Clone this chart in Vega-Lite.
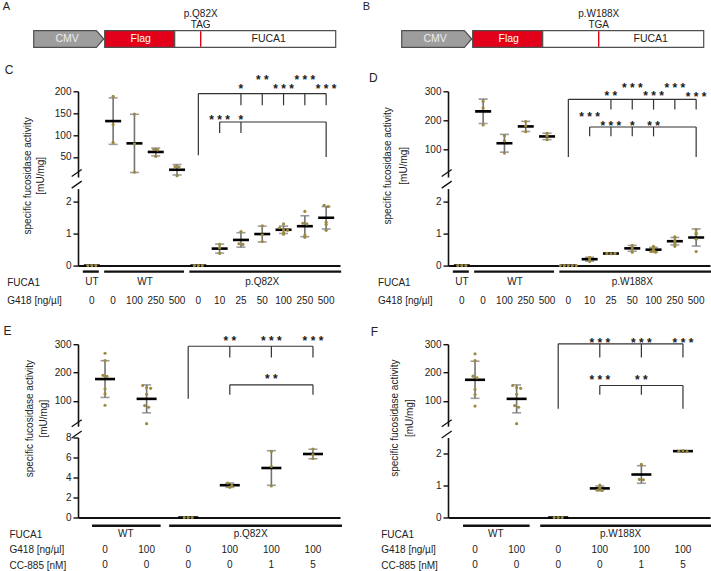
{
"$schema": "https://vega.github.io/schema/vega-lite/v6.json",
"autosize": {"type": "pad"},
"padding": {"left": 2, "top": 0, "right": 0, "bottom": 0},
"background": "white",
"config": {
  "view": {"stroke": null},
  "font": "Liberation Sans",
  "axis": {"domainColor": "#111", "domainWidth": 1.6, "tickColor": "#111", "tickWidth": 1.4, "tickSize": 5, "labelFontSize": 10, "labelColor": "#222", "labelPadding": 2, "grid": false, "titleFontSize": 10, "titleFontWeight": "normal", "titleColor": "#222", "labelFont": "Liberation Sans", "titleFont": "Liberation Sans"},
  "title": {"fontSize": 12, "fontWeight": "normal", "color": "#222", "anchor": "start", "font": "Liberation Sans", "frame": "group"},
  "text": {"font": "Liberation Sans", "baseline": "middle", "fontSize": 10, "color": "#222"}
},
"datasets": {
  "cmv": [{"u": 0, "top": 30.7, "bot": 47.3}, {"u": 62.7, "top": 30.7, "bot": 47.3}, {"u": 70, "top": 39, "bot": 39}],
  "segs": [{"seg": "Flag", "u0": 71, "u1": 141}, {"seg": "FUCA1", "u0": 141, "u1": 302}],
  "c": [
    {"fuca1": "UT", "g418": 0, "cond": "UT/0", "v": 0}, {"fuca1": "UT", "g418": 0, "cond": "UT/0", "v": 0}, {"fuca1": "UT", "g418": 0, "cond": "UT/0", "v": 0},
    {"fuca1": "WT", "g418": 0, "cond": "WT/0", "v": 188.6}, {"fuca1": "WT", "g418": 0, "cond": "WT/0", "v": 123.8}, {"fuca1": "WT", "g418": 0, "cond": "WT/0", "v": 83.3},
    {"fuca1": "WT", "g418": 100, "cond": "WT/100", "v": 148}, {"fuca1": "WT", "g418": 100, "cond": "WT/100", "v": 80}, {"fuca1": "WT", "g418": 100, "cond": "WT/100", "v": 15},
    {"fuca1": "WT", "g418": 250, "cond": "WT/250", "v": 67}, {"fuca1": "WT", "g418": 250, "cond": "WT/250", "v": 66}, {"fuca1": "WT", "g418": 250, "cond": "WT/250", "v": 51},
    {"fuca1": "WT", "g418": 500, "cond": "WT/500", "v": 28}, {"fuca1": "WT", "g418": 500, "cond": "WT/500", "v": 27}, {"fuca1": "WT", "g418": 500, "cond": "WT/500", "v": 7},
    {"fuca1": "p.Q82X", "g418": 0, "cond": "Q82X/0", "v": 0}, {"fuca1": "p.Q82X", "g418": 0, "cond": "Q82X/0", "v": 0}, {"fuca1": "p.Q82X", "g418": 0, "cond": "Q82X/0", "v": 0},
    {"fuca1": "p.Q82X", "g418": 10, "cond": "Q82X/10", "v": 0.66}, {"fuca1": "p.Q82X", "g418": 10, "cond": "Q82X/10", "v": 0.55}, {"fuca1": "p.Q82X", "g418": 10, "cond": "Q82X/10", "v": 0.38},
    {"fuca1": "p.Q82X", "g418": 25, "cond": "Q82X/25", "v": 1.06}, {"fuca1": "p.Q82X", "g418": 25, "cond": "Q82X/25", "v": 0.68}, {"fuca1": "p.Q82X", "g418": 25, "cond": "Q82X/25", "v": 0.66},
    {"fuca1": "p.Q82X", "g418": 50, "cond": "Q82X/50", "v": 1.24}, {"fuca1": "p.Q82X", "g418": 50, "cond": "Q82X/50", "v": 0.96}, {"fuca1": "p.Q82X", "g418": 50, "cond": "Q82X/50", "v": 0.75},
    {"fuca1": "p.Q82X", "g418": 100, "cond": "Q82X/100", "v": 1.30}, {"fuca1": "p.Q82X", "g418": 100, "cond": "Q82X/100", "v": 1.18}, {"fuca1": "p.Q82X", "g418": 100, "cond": "Q82X/100", "v": 1.12}, {"fuca1": "p.Q82X", "g418": 100, "cond": "Q82X/100", "v": 1.10}, {"fuca1": "p.Q82X", "g418": 100, "cond": "Q82X/100", "v": 1.02}, {"fuca1": "p.Q82X", "g418": 100, "cond": "Q82X/100", "v": 0.98},
    {"fuca1": "p.Q82X", "g418": 250, "cond": "Q82X/250", "v": 1.69}, {"fuca1": "p.Q82X", "g418": 250, "cond": "Q82X/250", "v": 1.32}, {"fuca1": "p.Q82X", "g418": 250, "cond": "Q82X/250", "v": 1.30}, {"fuca1": "p.Q82X", "g418": 250, "cond": "Q82X/250", "v": 0.95}, {"fuca1": "p.Q82X", "g418": 250, "cond": "Q82X/250", "v": 0.88},
    {"fuca1": "p.Q82X", "g418": 500, "cond": "Q82X/500", "v": 1.88}, {"fuca1": "p.Q82X", "g418": 500, "cond": "Q82X/500", "v": 1.84}, {"fuca1": "p.Q82X", "g418": 500, "cond": "Q82X/500", "v": 1.35}, {"fuca1": "p.Q82X", "g418": 500, "cond": "Q82X/500", "v": 1.28}, {"fuca1": "p.Q82X", "g418": 500, "cond": "Q82X/500", "v": 1.10}
  ],
  "d": [
    {"fuca1": "UT", "g418": 0, "cond": "UT/0", "v": 0}, {"fuca1": "UT", "g418": 0, "cond": "UT/0", "v": 0}, {"fuca1": "UT", "g418": 0, "cond": "UT/0", "v": 0},
    {"fuca1": "WT", "g418": 0, "cond": "WT/0", "v": 265.6}, {"fuca1": "WT", "g418": 0, "cond": "WT/0", "v": 242.5}, {"fuca1": "WT", "g418": 0, "cond": "WT/0", "v": 183.6},
    {"fuca1": "WT", "g418": 100, "cond": "WT/100", "v": 146}, {"fuca1": "WT", "g418": 100, "cond": "WT/100", "v": 128}, {"fuca1": "WT", "g418": 100, "cond": "WT/100", "v": 86},
    {"fuca1": "WT", "g418": 250, "cond": "WT/250", "v": 195}, {"fuca1": "WT", "g418": 250, "cond": "WT/250", "v": 180}, {"fuca1": "WT", "g418": 250, "cond": "WT/250", "v": 160},
    {"fuca1": "WT", "g418": 500, "cond": "WT/500", "v": 154}, {"fuca1": "WT", "g418": 500, "cond": "WT/500", "v": 145}, {"fuca1": "WT", "g418": 500, "cond": "WT/500", "v": 132},
    {"fuca1": "p.W188X", "g418": 0, "cond": "W188X/0", "v": 0}, {"fuca1": "p.W188X", "g418": 0, "cond": "W188X/0", "v": 0}, {"fuca1": "p.W188X", "g418": 0, "cond": "W188X/0", "v": 0}, {"fuca1": "p.W188X", "g418": 0, "cond": "W188X/0", "v": 0}, {"fuca1": "p.W188X", "g418": 0, "cond": "W188X/0", "v": 0},
    {"fuca1": "p.W188X", "g418": 10, "cond": "W188X/10", "v": 0.26}, {"fuca1": "p.W188X", "g418": 10, "cond": "W188X/10", "v": 0.24}, {"fuca1": "p.W188X", "g418": 10, "cond": "W188X/10", "v": 0.13}, {"fuca1": "p.W188X", "g418": 10, "cond": "W188X/10", "v": 0.17},
    {"fuca1": "p.W188X", "g418": 25, "cond": "W188X/25", "v": 0.38}, {"fuca1": "p.W188X", "g418": 25, "cond": "W188X/25", "v": 0.37}, {"fuca1": "p.W188X", "g418": 25, "cond": "W188X/25", "v": 0.38},
    {"fuca1": "p.W188X", "g418": 50, "cond": "W188X/50", "v": 0.63}, {"fuca1": "p.W188X", "g418": 50, "cond": "W188X/50", "v": 0.58}, {"fuca1": "p.W188X", "g418": 50, "cond": "W188X/50", "v": 0.52}, {"fuca1": "p.W188X", "g418": 50, "cond": "W188X/50", "v": 0.42},
    {"fuca1": "p.W188X", "g418": 100, "cond": "W188X/100", "v": 0.60}, {"fuca1": "p.W188X", "g418": 100, "cond": "W188X/100", "v": 0.56}, {"fuca1": "p.W188X", "g418": 100, "cond": "W188X/100", "v": 0.50}, {"fuca1": "p.W188X", "g418": 100, "cond": "W188X/100", "v": 0.46}, {"fuca1": "p.W188X", "g418": 100, "cond": "W188X/100", "v": 0.44}, {"fuca1": "p.W188X", "g418": 100, "cond": "W188X/100", "v": 0.42},
    {"fuca1": "p.W188X", "g418": 250, "cond": "W188X/250", "v": 0.90}, {"fuca1": "p.W188X", "g418": 250, "cond": "W188X/250", "v": 0.88}, {"fuca1": "p.W188X", "g418": 250, "cond": "W188X/250", "v": 0.78}, {"fuca1": "p.W188X", "g418": 250, "cond": "W188X/250", "v": 0.72}, {"fuca1": "p.W188X", "g418": 250, "cond": "W188X/250", "v": 0.68}, {"fuca1": "p.W188X", "g418": 250, "cond": "W188X/250", "v": 0.60},
    {"fuca1": "p.W188X", "g418": 500, "cond": "W188X/500", "v": 1.12}, {"fuca1": "p.W188X", "g418": 500, "cond": "W188X/500", "v": 1.02}, {"fuca1": "p.W188X", "g418": 500, "cond": "W188X/500", "v": 0.98}, {"fuca1": "p.W188X", "g418": 500, "cond": "W188X/500", "v": 0.82}, {"fuca1": "p.W188X", "g418": 500, "cond": "W188X/500", "v": 0.44}
  ],
  "e": [
    {"fuca1": "WT", "g418": 0, "cc": 0, "cond": "WT/0/0", "v": 268}, {"fuca1": "WT", "g418": 0, "cc": 0, "cond": "WT/0/0", "v": 242}, {"fuca1": "WT", "g418": 0, "cc": 0, "cond": "WT/0/0", "v": 190}, {"fuca1": "WT", "g418": 0, "cc": 0, "cond": "WT/0/0", "v": 186}, {"fuca1": "WT", "g418": 0, "cc": 0, "cond": "WT/0/0", "v": 142}, {"fuca1": "WT", "g418": 0, "cc": 0, "cond": "WT/0/0", "v": 125}, {"fuca1": "WT", "g418": 0, "cc": 0, "cond": "WT/0/0", "v": 84},
    {"fuca1": "WT", "g418": 100, "cc": 0, "cond": "WT/100/0", "v": 154}, {"fuca1": "WT", "g418": 100, "cc": 0, "cond": "WT/100/0", "v": 147}, {"fuca1": "WT", "g418": 100, "cc": 0, "cond": "WT/100/0", "v": 144}, {"fuca1": "WT", "g418": 100, "cc": 0, "cond": "WT/100/0", "v": 123}, {"fuca1": "WT", "g418": 100, "cc": 0, "cond": "WT/100/0", "v": 83}, {"fuca1": "WT", "g418": 100, "cc": 0, "cond": "WT/100/0", "v": 77}, {"fuca1": "WT", "g418": 100, "cc": 0, "cond": "WT/100/0", "v": 19},
    {"fuca1": "p.Q82X", "g418": 0, "cc": 0, "cond": "Q82X/0/0", "v": 0}, {"fuca1": "p.Q82X", "g418": 0, "cc": 0, "cond": "Q82X/0/0", "v": 0}, {"fuca1": "p.Q82X", "g418": 0, "cc": 0, "cond": "Q82X/0/0", "v": 0},
    {"fuca1": "p.Q82X", "g418": 100, "cc": 0, "cond": "Q82X/100/0", "v": 3.45}, {"fuca1": "p.Q82X", "g418": 100, "cc": 0, "cond": "Q82X/100/0", "v": 3.22}, {"fuca1": "p.Q82X", "g418": 100, "cc": 0, "cond": "Q82X/100/0", "v": 3.02},
    {"fuca1": "p.Q82X", "g418": 100, "cc": 1, "cond": "Q82X/100/1", "v": 6.6}, {"fuca1": "p.Q82X", "g418": 100, "cc": 1, "cond": "Q82X/100/1", "v": 5.1}, {"fuca1": "p.Q82X", "g418": 100, "cc": 1, "cond": "Q82X/100/1", "v": 3.15},
    {"fuca1": "p.Q82X", "g418": 100, "cc": 5, "cond": "Q82X/100/5", "v": 6.85}, {"fuca1": "p.Q82X", "g418": 100, "cc": 5, "cond": "Q82X/100/5", "v": 6.3}, {"fuca1": "p.Q82X", "g418": 100, "cc": 5, "cond": "Q82X/100/5", "v": 5.9}
  ],
  "f": [
    {"fuca1": "WT", "g418": 0, "cc": 0, "cond": "WT/0/0", "v": 266}, {"fuca1": "WT", "g418": 0, "cc": 0, "cond": "WT/0/0", "v": 242}, {"fuca1": "WT", "g418": 0, "cc": 0, "cond": "WT/0/0", "v": 187}, {"fuca1": "WT", "g418": 0, "cc": 0, "cond": "WT/0/0", "v": 181}, {"fuca1": "WT", "g418": 0, "cc": 0, "cond": "WT/0/0", "v": 140}, {"fuca1": "WT", "g418": 0, "cc": 0, "cond": "WT/0/0", "v": 122}, {"fuca1": "WT", "g418": 0, "cc": 0, "cond": "WT/0/0", "v": 81},
    {"fuca1": "WT", "g418": 100, "cc": 0, "cond": "WT/100/0", "v": 154}, {"fuca1": "WT", "g418": 100, "cc": 0, "cond": "WT/100/0", "v": 147}, {"fuca1": "WT", "g418": 100, "cc": 0, "cond": "WT/100/0", "v": 144}, {"fuca1": "WT", "g418": 100, "cc": 0, "cond": "WT/100/0", "v": 123}, {"fuca1": "WT", "g418": 100, "cc": 0, "cond": "WT/100/0", "v": 83}, {"fuca1": "WT", "g418": 100, "cc": 0, "cond": "WT/100/0", "v": 77}, {"fuca1": "WT", "g418": 100, "cc": 0, "cond": "WT/100/0", "v": 19},
    {"fuca1": "p.W188X", "g418": 0, "cc": 0, "cond": "W188X/0/0", "v": 0}, {"fuca1": "p.W188X", "g418": 0, "cc": 0, "cond": "W188X/0/0", "v": 0}, {"fuca1": "p.W188X", "g418": 0, "cc": 0, "cond": "W188X/0/0", "v": 0},
    {"fuca1": "p.W188X", "g418": 100, "cc": 0, "cond": "W188X/100/0", "v": 1.01}, {"fuca1": "p.W188X", "g418": 100, "cc": 0, "cond": "W188X/100/0", "v": 0.92}, {"fuca1": "p.W188X", "g418": 100, "cc": 0, "cond": "W188X/100/0", "v": 0.86}, {"fuca1": "p.W188X", "g418": 100, "cc": 0, "cond": "W188X/100/0", "v": 0.85},
    {"fuca1": "p.W188X", "g418": 100, "cc": 1, "cond": "W188X/100/1", "v": 1.66}, {"fuca1": "p.W188X", "g418": 100, "cc": 1, "cond": "W188X/100/1", "v": 1.19}, {"fuca1": "p.W188X", "g418": 100, "cc": 1, "cond": "W188X/100/1", "v": 1.18},
    {"fuca1": "p.W188X", "g418": 100, "cc": 5, "cond": "W188X/100/5", "v": 2.07}, {"fuca1": "p.W188X", "g418": 100, "cc": 5, "cond": "W188X/100/5", "v": 2.09}, {"fuca1": "p.W188X", "g418": 100, "cc": 5, "cond": "W188X/100/5", "v": 2.06}
  ],
  "cH": [{"a": "Q82X/0", "b": "Q82X/500", "y": 194.7}, {"a": "Q82X/10", "b": "Q82X/500", "y": 129.8}],
  "cL": [{"g": "Q82X/0", "y": 194.7, "y2": 53.7}, {"g": "Q82X/25", "y": 194.7, "y2": 168}, {"g": "Q82X/50", "y": 194.7, "y2": 168}, {"g": "Q82X/100", "y": 194.7, "y2": 168}, {"g": "Q82X/250", "y": 194.7, "y2": 168}, {"g": "Q82X/500", "y": 194.7, "y2": 168}, {"g": "Q82X/10", "y": 129.8, "y2": 104.7}, {"g": "Q82X/25", "y": 129.8, "y2": 104.7}, {"g": "Q82X/500", "y": 129.8, "y2": 49.8}],
  "cS": [{"g": "Q82X/25", "y": 211.4, "s": "*"}, {"g": "Q82X/50", "y": 231.3, "s": "* *"}, {"g": "Q82X/100", "y": 211.4, "s": "* * *"}, {"g": "Q82X/250", "y": 231.3, "s": "* * *"}, {"g": "Q82X/500", "y": 211.4, "s": "* * *"}, {"g": "Q82X/10", "y": 141.3, "s": "* * *"}, {"g": "Q82X/25", "y": 141.3, "s": "*"}],
  "dH": [{"a": "W188X/0", "b": "W188X/500", "y": 272.3}, {"a": "W188X/10", "b": "W188X/500", "y": 176.3}],
  "dL": [{"g": "W188X/0", "y": 272.3, "y2": 72.4}, {"g": "W188X/25", "y": 272.3, "y2": 236.6}, {"g": "W188X/50", "y": 272.3, "y2": 236.6}, {"g": "W188X/100", "y": 272.3, "y2": 236.6}, {"g": "W188X/250", "y": 272.3, "y2": 236.6}, {"g": "W188X/500", "y": 272.3, "y2": 236.6}, {"g": "W188X/10", "y": 176.3, "y2": 144}, {"g": "W188X/25", "y": 176.3, "y2": 144}, {"g": "W188X/50", "y": 176.3, "y2": 144}, {"g": "W188X/100", "y": 176.3, "y2": 144}, {"g": "W188X/500", "y": 176.3, "y2": 72.4}],
  "dS": [{"g": "W188X/25", "y": 292, "s": "* *"}, {"g": "W188X/50", "y": 320.7, "s": "* * *"}, {"g": "W188X/100", "y": 292, "s": "* * *"}, {"g": "W188X/250", "y": 320.7, "s": "* * *"}, {"g": "W188X/500", "y": 288.5, "s": "* * *"}, {"g": "W188X/10", "y": 219, "s": "* * *"}, {"g": "W188X/25", "y": 190, "s": "* * *"}, {"g": "W188X/50", "y": 190, "s": "*"}, {"g": "W188X/100", "y": 190, "s": "* *"}],
  "eH": [{"a": "Q82X/0/0", "b": "Q82X/100/5", "y": 292.7}, {"a": "Q82X/100/0", "b": "Q82X/100/5", "y": 156.4}],
  "eL": [{"g": "Q82X/0/0", "y": 292.7, "y2": 106.9}, {"g": "Q82X/100/0", "y": 292.7, "y2": 253}, {"g": "Q82X/100/1", "y": 292.7, "y2": 253}, {"g": "Q82X/100/5", "y": 292.7, "y2": 253}, {"g": "Q82X/100/0", "y": 156.4, "y2": 121}, {"g": "Q82X/100/5", "y": 156.4, "y2": 121}],
  "eS": [{"g": "Q82X/100/0", "y": 321.2, "s": "* *"}, {"g": "Q82X/100/1", "y": 321.2, "s": "* * *"}, {"g": "Q82X/100/5", "y": 321.2, "s": "* * *"}, {"g": "Q82X/100/1", "y": 185.8, "s": "* *"}],
  "fH": [{"a": "W188X/0/0", "b": "W188X/100/5", "y": 301.4}, {"a": "W188X/100/0", "b": "W188X/100/5", "y": 154}],
  "fL": [{"g": "W188X/0/0", "y": 301.4, "y2": 71.5}, {"g": "W188X/100/0", "y": 301.4, "y2": 253}, {"g": "W188X/100/1", "y": 301.4, "y2": 253}, {"g": "W188X/100/5", "y": 301.4, "y2": 253}, {"g": "W188X/100/0", "y": 154, "y2": 121}, {"g": "W188X/100/1", "y": 154, "y2": 121}, {"g": "W188X/100/5", "y": 154, "y2": 71.5}],
  "fS": [{"g": "W188X/100/0", "y": 315.6, "s": "* * *"}, {"g": "W188X/100/1", "y": 315.6, "s": "* * *"}, {"g": "W188X/100/5", "y": 315.6, "s": "* * *"}, {"g": "W188X/100/0", "y": 183.3, "s": "* * *"}, {"g": "W188X/100/1", "y": 183.3, "s": "* *"}]
},
"bounds": "flush",
"columns": 2,
"spacing": {"row": 11.3, "column": 108},
"concat": [
  {"width": 262, "height": 79.7,
   "layer": [
    {"data": {"name": "cmv"}, "mark": {"type": "area", "orient": "vertical", "color": "#9d9d9d", "stroke": "#4f4f4f", "strokeWidth": 1.2, "opacity": 1},
     "encoding": {"x": {"field": "u", "type": "quantitative", "scale": {"domain": [44.3, 306.3], "nice": false, "zero": false}, "axis": null},
                  "y": {"field": "top", "type": "quantitative", "scale": {"domain": [0, 79.7], "reverse": true, "nice": false, "zero": false}, "axis": null},
                  "y2": {"field": "bot"}}},
    {"data": {"name": "segs"}, "mark": {"type": "rect", "stroke": "#4f4f4f", "strokeWidth": 1.2},
     "encoding": {"x": {"field": "u0", "type": "quantitative", "axis": null}, "x2": {"field": "u1"}, "y": {"datum": 30.7, "axis": null}, "y2": {"datum": 47.3},
                  "fill": {"field": "seg", "type": "nominal", "scale": {"domain": ["Flag", "FUCA1"], "range": ["#e2001a", "#ffffff"]}, "legend": null}}},
    {"data": {"values": [{"u": 167}]}, "mark": {"type": "rule", "color": "#e2001a", "strokeWidth": 1.4},
     "encoding": {"x": {"field": "u", "type": "quantitative", "axis": null}, "y": {"datum": 31.3, "axis": null}, "y2": {"datum": 46.7}}},
    {"data": {"values": [{"t": "CMV", "u": 33.4}, {"t": "Flag", "u": 107}, {"t": "FUCA1", "u": 235}]}, "mark": {"type": "text", "fontSize": 10.5},
     "encoding": {"x": {"field": "u", "type": "quantitative", "axis": null}, "y": {"datum": 39, "axis": null}, "text": {"field": "t"},
                  "color": {"field": "t", "type": "nominal", "scale": {"domain": ["CMV", "Flag", "FUCA1"], "range": ["#ececec", "#ffffff", "#222222"]}, "legend": null}}},
    {"data": {"values": [{"u": 167, "y": 14, "t": "p.Q82X"}, {"u": 167, "y": 25, "t": "TAG"}]}, "mark": {"type": "text", "fontSize": 10},
     "encoding": {"x": {"field": "u", "type": "quantitative", "axis": null}, "y": {"field": "y", "type": "quantitative", "axis": null}, "text": {"field": "t"}}},
    {"data": {"values": [{"u": -31, "y": 6.7, "t": "A"}]}, "mark": {"type": "text", "fontSize": 11, "align": "left"},
     "encoding": {"x": {"field": "u", "type": "quantitative", "axis": null}, "y": {"field": "y", "type": "quantitative", "axis": null}, "text": {"field": "t"}}}
   ]},
  {"width": 262, "height": 79.7,
   "layer": [
    {"data": {"name": "cmv"}, "mark": {"type": "area", "orient": "vertical", "color": "#9d9d9d", "stroke": "#4f4f4f", "strokeWidth": 1.2, "opacity": 1},
     "encoding": {"x": {"field": "u", "type": "quantitative", "scale": {"domain": [46.3, 308.3], "nice": false, "zero": false}, "axis": null},
                  "y": {"field": "top", "type": "quantitative", "scale": {"domain": [0, 79.7], "reverse": true, "nice": false, "zero": false}, "axis": null},
                  "y2": {"field": "bot"}}},
    {"data": {"name": "segs"}, "mark": {"type": "rect", "stroke": "#4f4f4f", "strokeWidth": 1.2},
     "encoding": {"x": {"field": "u0", "type": "quantitative", "axis": null}, "x2": {"field": "u1"}, "y": {"datum": 30.7, "axis": null}, "y2": {"datum": 47.3},
                  "fill": {"field": "seg", "type": "nominal", "scale": {"domain": ["Flag", "FUCA1"], "range": ["#e2001a", "#ffffff"]}, "legend": null}}},
    {"data": {"values": [{"u": 197}]}, "mark": {"type": "rule", "color": "#e2001a", "strokeWidth": 1.4},
     "encoding": {"x": {"field": "u", "type": "quantitative", "axis": null}, "y": {"datum": 31.3, "axis": null}, "y2": {"datum": 46.7}}},
    {"data": {"values": [{"t": "CMV", "u": 33.4}, {"t": "Flag", "u": 107}, {"t": "FUCA1", "u": 249}]}, "mark": {"type": "text", "fontSize": 10.5},
     "encoding": {"x": {"field": "u", "type": "quantitative", "axis": null}, "y": {"datum": 39, "axis": null}, "text": {"field": "t"},
                  "color": {"field": "t", "type": "nominal", "scale": {"domain": ["CMV", "Flag", "FUCA1"], "range": ["#ececec", "#ffffff", "#222222"]}, "legend": null}}},
    {"data": {"values": [{"u": 197, "y": 14, "t": "p.W188X"}, {"u": 197, "y": 25, "t": "TGA"}]}, "mark": {"type": "text", "fontSize": 10},
     "encoding": {"x": {"field": "u", "type": "quantitative", "axis": null}, "y": {"field": "y", "type": "quantitative", "axis": null}, "text": {"field": "t"}}},
    {"data": {"values": [{"u": -39, "y": 6.7, "t": "B"}]}, "mark": {"type": "text", "fontSize": 11, "align": "left"},
     "encoding": {"x": {"field": "u", "type": "quantitative", "axis": null}, "y": {"field": "y", "type": "quantitative", "axis": null}, "text": {"field": "t"}}}
   ]},

  {"width": 262, "height": 85.7,
   "title": {"text": "C", "dx": -73.3, "offset": -11.6, "baseline": "alphabetic"},
   "layer": [
    {"data": {"name": "c"}, "transform": [{"filter": "datum.fuca1 == 'WT'"}],
     "mark": {"type": "errorbar", "extent": "stdev", "ticks": true, "size": 9, "thickness": 1.6, "color": "#737373"},
     "encoding": {"x": {"field": "cond", "type": "nominal", "scale": {"type": "point", "domain": ["UT/0","WT/0","WT/100","WT/250","WT/500","Q82X/0","Q82X/10","Q82X/25","Q82X/50","Q82X/100","Q82X/250","Q82X/500"], "padding": 0.65}, "axis": null},
                  "y": {"field": "v", "type": "quantitative", "scale": {"domain": [4.1, 200], "nice": false, "zero": false}, "axis": {"values": [50, 100, 150, 200], "title": ["specific fucosidase activity", "[mU/mg]"], "titleX": -46, "titleY": 84, "titleLineHeight": 13.5}}}},
    {"data": {"name": "c"}, "transform": [{"filter": "datum.fuca1 == 'WT'"}],
     "mark": {"type": "tick", "color": "#000", "thickness": 2.6, "size": 16},
     "encoding": {"x": {"field": "cond", "type": "nominal", "scale": {"type": "point", "domain": ["UT/0","WT/0","WT/100","WT/250","WT/500","Q82X/0","Q82X/10","Q82X/25","Q82X/50","Q82X/100","Q82X/250","Q82X/500"], "padding": 0.65}, "axis": null},
                  "y": {"aggregate": "mean", "field": "v", "type": "quantitative", "scale": {"domain": [4.1, 200], "nice": false, "zero": false}, "axis": {"values": [50, 100, 150, 200], "title": ["specific fucosidase activity", "[mU/mg]"], "titleX": -46, "titleY": 84, "titleLineHeight": 13.5}}}},
    {"data": {"name": "c"}, "transform": [{"filter": "datum.fuca1 == 'WT'"}, {"bin": {"step": 8}, "field": "v", "as": "vb"}, {"window": [{"op": "row_number", "as": "i"}, {"op": "count", "as": "n"}], "groupby": ["cond", "vb"], "frame": [null, null]}, {"calculate": "datum.i - (datum.n + 1) / 2", "as": "off"}],
     "mark": {"type": "circle", "size": 10, "color": "#9c8a3e", "opacity": 1},
     "encoding": {"x": {"field": "cond", "type": "nominal", "scale": {"type": "point", "domain": ["UT/0","WT/0","WT/100","WT/250","WT/500","Q82X/0","Q82X/10","Q82X/25","Q82X/50","Q82X/100","Q82X/250","Q82X/500"], "padding": 0.65}, "axis": null},
                  "xOffset": {"field": "off", "type": "quantitative", "scale": {"domain": [-1, 1], "range": [-4, 4]}},
                  "y": {"field": "v", "type": "quantitative", "scale": {"domain": [4.1, 200], "nice": false, "zero": false}, "axis": {"values": [50, 100, 150, 200], "title": ["specific fucosidase activity", "[mU/mg]"], "titleX": -46, "titleY": 84, "titleLineHeight": 13.5}}}},
    {"data": {"name": "cH"}, "mark": {"type": "rule", "color": "#333", "strokeWidth": 1.2},
     "encoding": {"x": {"field": "a", "type": "nominal", "scale": {"type": "point", "domain": ["UT/0","WT/0","WT/100","WT/250","WT/500","Q82X/0","Q82X/10","Q82X/25","Q82X/50","Q82X/100","Q82X/250","Q82X/500"], "padding": 0.65}, "axis": null}, "x2": {"field": "b"},
                  "y": {"field": "y", "type": "quantitative", "scale": {"domain": [4.1, 200], "nice": false, "zero": false}, "axis": {"values": [50, 100, 150, 200], "title": ["specific fucosidase activity", "[mU/mg]"], "titleX": -46, "titleY": 84, "titleLineHeight": 13.5}}}},
    {"data": {"name": "cL"}, "mark": {"type": "rule", "color": "#333", "strokeWidth": 1.2},
     "encoding": {"x": {"field": "g", "type": "nominal", "scale": {"type": "point", "domain": ["UT/0","WT/0","WT/100","WT/250","WT/500","Q82X/0","Q82X/10","Q82X/25","Q82X/50","Q82X/100","Q82X/250","Q82X/500"], "padding": 0.65}, "axis": null},
                  "y": {"field": "y", "type": "quantitative", "scale": {"domain": [4.1, 200], "nice": false, "zero": false}, "axis": {"values": [50, 100, 150, 200], "title": ["specific fucosidase activity", "[mU/mg]"], "titleX": -46, "titleY": 84, "titleLineHeight": 13.5}}, "y2": {"field": "y2"}}},
    {"data": {"name": "cS"}, "mark": {"type": "text", "fontSize": 12, "fontWeight": "bold", "baseline": "alphabetic", "dy": 6.8, "color": "#1a1a1a"},
     "encoding": {"x": {"field": "g", "type": "nominal", "scale": {"type": "point", "domain": ["UT/0","WT/0","WT/100","WT/250","WT/500","Q82X/0","Q82X/10","Q82X/25","Q82X/50","Q82X/100","Q82X/250","Q82X/500"], "padding": 0.65}, "axis": null},
                  "y": {"field": "y", "type": "quantitative", "scale": {"domain": [4.1, 200], "nice": false, "zero": false}, "axis": {"values": [50, 100, 150, 200], "title": ["specific fucosidase activity", "[mU/mg]"], "titleX": -46, "titleY": 84, "titleLineHeight": 13.5}}, "text": {"field": "s"}}},
    {"data": {"values": [{}]}, "mark": {"type": "point", "shape": "M-1,0.7L1,-0.7", "size": 100, "filled": false, "stroke": "#111", "strokeWidth": 1.3, "opacity": 1, "xOffset": -15.15, "yOffset": -4},
     "encoding": {"x": {"datum": "UT/0", "type": "nominal", "axis": null}, "y": {"datum": 4.1, "type": "quantitative", "axis": {"values": [50, 100, 150, 200], "title": ["specific fucosidase activity", "[mU/mg]"], "titleX": -46, "titleY": 84, "titleLineHeight": 13.5}}}}
   ]},
  {"width": 262, "height": 85.7,
   "title": {"text": "D", "dx": -79, "offset": -11.6, "baseline": "alphabetic"},
   "layer": [
    {"data": {"name": "d"}, "transform": [{"filter": "datum.fuca1 == 'WT'"}],
     "mark": {"type": "errorbar", "extent": "stdev", "ticks": true, "size": 9, "thickness": 1.6, "color": "#737373"},
     "encoding": {"x": {"field": "cond", "type": "nominal", "scale": {"type": "point", "domain": ["UT/0","WT/0","WT/100","WT/250","WT/500","W188X/0","W188X/10","W188X/25","W188X/50","W188X/100","W188X/250","W188X/500"], "padding": 0.65}, "axis": null},
                  "y": {"field": "v", "type": "quantitative", "scale": {"domain": [3.1, 300], "nice": false, "zero": false}, "axis": {"values": [100, 200, 300], "title": ["specific fucosidase activity", "[mU/mg]"], "titleX": -56, "titleY": 74, "titleLineHeight": 16}}}},
    {"data": {"name": "d"}, "transform": [{"filter": "datum.fuca1 == 'WT'"}],
     "mark": {"type": "tick", "color": "#000", "thickness": 2.6, "size": 16},
     "encoding": {"x": {"field": "cond", "type": "nominal", "scale": {"type": "point", "domain": ["UT/0","WT/0","WT/100","WT/250","WT/500","W188X/0","W188X/10","W188X/25","W188X/50","W188X/100","W188X/250","W188X/500"], "padding": 0.65}, "axis": null},
                  "y": {"aggregate": "mean", "field": "v", "type": "quantitative", "scale": {"domain": [3.1, 300], "nice": false, "zero": false}, "axis": {"values": [100, 200, 300], "title": ["specific fucosidase activity", "[mU/mg]"], "titleX": -56, "titleY": 74, "titleLineHeight": 16}}}},
    {"data": {"name": "d"}, "transform": [{"filter": "datum.fuca1 == 'WT'"}, {"bin": {"step": 10}, "field": "v", "as": "vb"}, {"window": [{"op": "row_number", "as": "i"}, {"op": "count", "as": "n"}], "groupby": ["cond", "vb"], "frame": [null, null]}, {"calculate": "datum.i - (datum.n + 1) / 2", "as": "off"}],
     "mark": {"type": "circle", "size": 10, "color": "#9c8a3e", "opacity": 1},
     "encoding": {"x": {"field": "cond", "type": "nominal", "scale": {"type": "point", "domain": ["UT/0","WT/0","WT/100","WT/250","WT/500","W188X/0","W188X/10","W188X/25","W188X/50","W188X/100","W188X/250","W188X/500"], "padding": 0.65}, "axis": null},
                  "xOffset": {"field": "off", "type": "quantitative", "scale": {"domain": [-1, 1], "range": [-4, 4]}},
                  "y": {"field": "v", "type": "quantitative", "scale": {"domain": [3.1, 300], "nice": false, "zero": false}, "axis": {"values": [100, 200, 300], "title": ["specific fucosidase activity", "[mU/mg]"], "titleX": -56, "titleY": 74, "titleLineHeight": 16}}}},
    {"data": {"name": "dH"}, "mark": {"type": "rule", "color": "#333", "strokeWidth": 1.2},
     "encoding": {"x": {"field": "a", "type": "nominal", "scale": {"type": "point", "domain": ["UT/0","WT/0","WT/100","WT/250","WT/500","W188X/0","W188X/10","W188X/25","W188X/50","W188X/100","W188X/250","W188X/500"], "padding": 0.65}, "axis": null}, "x2": {"field": "b"},
                  "y": {"field": "y", "type": "quantitative", "scale": {"domain": [3.1, 300], "nice": false, "zero": false}, "axis": {"values": [100, 200, 300], "title": ["specific fucosidase activity", "[mU/mg]"], "titleX": -56, "titleY": 74, "titleLineHeight": 16}}}},
    {"data": {"name": "dL"}, "mark": {"type": "rule", "color": "#333", "strokeWidth": 1.2},
     "encoding": {"x": {"field": "g", "type": "nominal", "scale": {"type": "point", "domain": ["UT/0","WT/0","WT/100","WT/250","WT/500","W188X/0","W188X/10","W188X/25","W188X/50","W188X/100","W188X/250","W188X/500"], "padding": 0.65}, "axis": null},
                  "y": {"field": "y", "type": "quantitative", "scale": {"domain": [3.1, 300], "nice": false, "zero": false}, "axis": {"values": [100, 200, 300], "title": ["specific fucosidase activity", "[mU/mg]"], "titleX": -56, "titleY": 74, "titleLineHeight": 16}}, "y2": {"field": "y2"}}},
    {"data": {"name": "dS"}, "mark": {"type": "text", "fontSize": 12, "fontWeight": "bold", "baseline": "alphabetic", "dy": 6.8, "color": "#1a1a1a"},
     "encoding": {"x": {"field": "g", "type": "nominal", "scale": {"type": "point", "domain": ["UT/0","WT/0","WT/100","WT/250","WT/500","W188X/0","W188X/10","W188X/25","W188X/50","W188X/100","W188X/250","W188X/500"], "padding": 0.65}, "axis": null},
                  "y": {"field": "y", "type": "quantitative", "scale": {"domain": [3.1, 300], "nice": false, "zero": false}, "axis": {"values": [100, 200, 300], "title": ["specific fucosidase activity", "[mU/mg]"], "titleX": -56, "titleY": 74, "titleLineHeight": 16}}, "text": {"field": "s"}}},
    {"data": {"values": [{}]}, "mark": {"type": "point", "shape": "M-1,0.7L1,-0.7", "size": 100, "filled": false, "stroke": "#111", "strokeWidth": 1.3, "opacity": 1, "xOffset": -15.15, "yOffset": -4},
     "encoding": {"x": {"datum": "UT/0", "type": "nominal", "axis": null}, "y": {"datum": 3.1, "type": "quantitative", "axis": {"values": [100, 200, 300], "title": ["specific fucosidase activity", "[mU/mg]"], "titleX": -56, "titleY": 74, "titleLineHeight": 16}}}}
   ]},

  {"width": 262, "height": 77,
   "layer": [
    {"data": {"name": "c"}, "transform": [{"filter": "datum.fuca1 != 'WT'"}],
     "mark": {"type": "errorbar", "extent": "stdev", "ticks": true, "size": 9, "thickness": 1.6, "color": "#737373"},
     "encoding": {"x": {"field": "cond", "type": "nominal", "scale": {"type": "point", "domain": ["UT/0","WT/0","WT/100","WT/250","WT/500","Q82X/0","Q82X/10","Q82X/25","Q82X/50","Q82X/100","Q82X/250","Q82X/500"], "padding": 0.65}, "axis": {"labels": false, "ticks": false, "title": null, "domainWidth": 2}},
                  "y": {"field": "v", "type": "quantitative", "scale": {"domain": [0, 2.4], "nice": false, "zero": false}, "axis": {"values": [0, 1, 2], "title": null}}}},
    {"data": {"name": "c"}, "transform": [{"filter": "datum.fuca1 != 'WT'"}],
     "mark": {"type": "tick", "color": "#000", "thickness": 2.6, "size": 16},
     "encoding": {"x": {"field": "cond", "type": "nominal", "scale": {"type": "point", "domain": ["UT/0","WT/0","WT/100","WT/250","WT/500","Q82X/0","Q82X/10","Q82X/25","Q82X/50","Q82X/100","Q82X/250","Q82X/500"], "padding": 0.65}, "axis": {"labels": false, "ticks": false, "title": null, "domainWidth": 2}},
                  "y": {"aggregate": "mean", "field": "v", "type": "quantitative", "scale": {"domain": [0, 2.4], "nice": false, "zero": false}, "axis": {"values": [0, 1, 2], "title": null}}}},
    {"data": {"name": "c"}, "transform": [{"filter": "datum.fuca1 != 'WT'"}, {"bin": {"step": 0.1}, "field": "v", "as": "vb"}, {"window": [{"op": "row_number", "as": "i"}, {"op": "count", "as": "n"}], "groupby": ["cond", "vb"], "frame": [null, null]}, {"calculate": "datum.i - (datum.n + 1) / 2", "as": "off"}],
     "mark": {"type": "circle", "size": 10, "color": "#9c8a3e", "opacity": 1},
     "encoding": {"x": {"field": "cond", "type": "nominal", "scale": {"type": "point", "domain": ["UT/0","WT/0","WT/100","WT/250","WT/500","Q82X/0","Q82X/10","Q82X/25","Q82X/50","Q82X/100","Q82X/250","Q82X/500"], "padding": 0.65}, "axis": {"labels": false, "ticks": false, "title": null, "domainWidth": 2}},
                  "xOffset": {"field": "off", "type": "quantitative", "scale": {"domain": [-1, 1], "range": [-4, 4]}},
                  "y": {"field": "v", "type": "quantitative", "scale": {"domain": [0, 2.4], "nice": false, "zero": false}, "axis": {"values": [0, 1, 2], "title": null}}}},
    {"data": {"values": [{}]}, "mark": {"type": "point", "shape": "M-1,0.7L1,-0.7", "size": 100, "filled": false, "stroke": "#111", "strokeWidth": 1.3, "opacity": 1, "xOffset": -15.15, "yOffset": -4},
     "encoding": {"x": {"datum": "UT/0", "type": "nominal", "axis": {"labels": false, "ticks": false, "title": null, "domainWidth": 2}}, "y": {"datum": 2.4, "type": "quantitative", "axis": {"values": [0, 1, 2], "title": null}}}}
   ]},
  {"width": 262, "height": 77,
   "layer": [
    {"data": {"name": "d"}, "transform": [{"filter": "datum.fuca1 != 'WT'"}],
     "mark": {"type": "errorbar", "extent": "stdev", "ticks": true, "size": 9, "thickness": 1.6, "color": "#737373"},
     "encoding": {"x": {"field": "cond", "type": "nominal", "scale": {"type": "point", "domain": ["UT/0","WT/0","WT/100","WT/250","WT/500","W188X/0","W188X/10","W188X/25","W188X/50","W188X/100","W188X/250","W188X/500"], "padding": 0.65}, "axis": {"labels": false, "ticks": false, "title": null, "domainWidth": 2}},
                  "y": {"field": "v", "type": "quantitative", "scale": {"domain": [0, 2.4], "nice": false, "zero": false}, "axis": {"values": [0, 1, 2], "title": null}}}},
    {"data": {"name": "d"}, "transform": [{"filter": "datum.fuca1 != 'WT'"}],
     "mark": {"type": "tick", "color": "#000", "thickness": 2.6, "size": 16},
     "encoding": {"x": {"field": "cond", "type": "nominal", "scale": {"type": "point", "domain": ["UT/0","WT/0","WT/100","WT/250","WT/500","W188X/0","W188X/10","W188X/25","W188X/50","W188X/100","W188X/250","W188X/500"], "padding": 0.65}, "axis": {"labels": false, "ticks": false, "title": null, "domainWidth": 2}},
                  "y": {"aggregate": "mean", "field": "v", "type": "quantitative", "scale": {"domain": [0, 2.4], "nice": false, "zero": false}, "axis": {"values": [0, 1, 2], "title": null}}}},
    {"data": {"name": "d"}, "transform": [{"filter": "datum.fuca1 != 'WT'"}, {"bin": {"step": 0.05}, "field": "v", "as": "vb"}, {"window": [{"op": "row_number", "as": "i"}, {"op": "count", "as": "n"}], "groupby": ["cond", "vb"], "frame": [null, null]}, {"calculate": "datum.i - (datum.n + 1) / 2", "as": "off"}],
     "mark": {"type": "circle", "size": 10, "color": "#9c8a3e", "opacity": 1},
     "encoding": {"x": {"field": "cond", "type": "nominal", "scale": {"type": "point", "domain": ["UT/0","WT/0","WT/100","WT/250","WT/500","W188X/0","W188X/10","W188X/25","W188X/50","W188X/100","W188X/250","W188X/500"], "padding": 0.65}, "axis": {"labels": false, "ticks": false, "title": null, "domainWidth": 2}},
                  "xOffset": {"field": "off", "type": "quantitative", "scale": {"domain": [-1, 1], "range": [-3.3, 3.3]}},
                  "y": {"field": "v", "type": "quantitative", "scale": {"domain": [0, 2.4], "nice": false, "zero": false}, "axis": {"values": [0, 1, 2], "title": null}}}},
    {"data": {"values": [{}]}, "mark": {"type": "point", "shape": "M-1,0.7L1,-0.7", "size": 100, "filled": false, "stroke": "#111", "strokeWidth": 1.3, "opacity": 1, "xOffset": -15.15, "yOffset": -4},
     "encoding": {"x": {"datum": "UT/0", "type": "nominal", "axis": {"labels": false, "ticks": false, "title": null, "domainWidth": 2}}, "y": {"datum": 2.4, "type": "quantitative", "axis": {"values": [0, 1, 2], "title": null}}}}
   ]},

  {"width": 262, "height": 55.1,
   "layer": [
    {"data": {"values": [{"a": "UT/0", "b": "UT/0"}, {"a": "WT/0", "b": "WT/500"}]},
     "mark": {"type": "rule", "color": "#111", "strokeWidth": 2.4, "xOffset": -9, "x2Offset": 7, "yOffset": -10.6},
     "encoding": {"x": {"field": "a", "type": "nominal", "scale": {"type": "point", "domain": ["UT/0","WT/0","WT/100","WT/250","WT/500","Q82X/0","Q82X/10","Q82X/25","Q82X/50","Q82X/100","Q82X/250","Q82X/500"], "padding": 0.65}, "axis": null}, "x2": {"field": "b"},
                  "y": {"datum": "FUCA1", "type": "nominal", "scale": {"type": "point", "domain": ["FUCA1", "G418 [ng/µl]"], "padding": 1.556, "align": 0.144},
                        "axis": {"title": null, "domain": false, "ticks": false, "tickSize": 0, "labelAlign": "left", "labelPadding": 71.3, "labelBaseline": "middle"}}}},
    {"data": {"values": [{"a": "Q82X/0", "b": "Q82X/500"}]},
     "mark": {"type": "rule", "color": "#111", "strokeWidth": 2.4, "xOffset": -9, "x2Offset": 15, "yOffset": -10.6},
     "encoding": {"x": {"field": "a", "type": "nominal"}, "x2": {"field": "b"}, "y": {"datum": "FUCA1", "type": "nominal"}}},
    {"data": {"values": [{"g": "UT/0", "t": "UT"}, {"g": "Q82X/50", "t": "p.Q82X"}]}, "mark": {"type": "text"},
     "encoding": {"x": {"field": "g", "type": "nominal"}, "y": {"datum": "FUCA1", "type": "nominal"}, "text": {"field": "t"}}},
    {"data": {"values": [{"g": "WT/100", "t": "WT"}]}, "mark": {"type": "text", "dx": 10.6},
     "encoding": {"x": {"field": "g", "type": "nominal"}, "y": {"datum": "FUCA1", "type": "nominal"}, "text": {"field": "t"}}},
    {"data": {"name": "c"}, "transform": [{"aggregate": [{"op": "count", "as": "k"}], "groupby": ["cond", "g418"]}], "mark": {"type": "text"},
     "encoding": {"x": {"field": "cond", "type": "nominal"}, "y": {"datum": "G418 [ng/µl]", "type": "nominal"}, "text": {"field": "g418", "type": "quantitative"}}}
   ]},
  {"width": 262, "height": 55.1,
   "layer": [
    {"data": {"values": [{"a": "UT/0", "b": "UT/0"}, {"a": "WT/0", "b": "WT/500"}]},
     "mark": {"type": "rule", "color": "#111", "strokeWidth": 2.4, "xOffset": -9, "x2Offset": 7, "yOffset": -10.6},
     "encoding": {"x": {"field": "a", "type": "nominal", "scale": {"type": "point", "domain": ["UT/0","WT/0","WT/100","WT/250","WT/500","W188X/0","W188X/10","W188X/25","W188X/50","W188X/100","W188X/250","W188X/500"], "padding": 0.65}, "axis": null}, "x2": {"field": "b"},
                  "y": {"datum": "FUCA1", "type": "nominal", "scale": {"type": "point", "domain": ["FUCA1", "G418 [ng/µl]"], "padding": 1.556, "align": 0.144},
                        "axis": {"title": null, "domain": false, "ticks": false, "tickSize": 0, "labelAlign": "left", "labelPadding": 70.6, "labelBaseline": "middle"}}}},
    {"data": {"values": [{"a": "W188X/0", "b": "W188X/500"}]},
     "mark": {"type": "rule", "color": "#111", "strokeWidth": 2.4, "xOffset": -9, "x2Offset": 15, "yOffset": -10.6},
     "encoding": {"x": {"field": "a", "type": "nominal"}, "x2": {"field": "b"}, "y": {"datum": "FUCA1", "type": "nominal"}}},
    {"data": {"values": [{"g": "UT/0", "t": "UT"}, {"g": "W188X/50", "t": "p.W188X"}]}, "mark": {"type": "text"},
     "encoding": {"x": {"field": "g", "type": "nominal"}, "y": {"datum": "FUCA1", "type": "nominal"}, "text": {"field": "t"}}},
    {"data": {"values": [{"g": "WT/100", "t": "WT"}]}, "mark": {"type": "text", "dx": 10.6},
     "encoding": {"x": {"field": "g", "type": "nominal"}, "y": {"datum": "FUCA1", "type": "nominal"}, "text": {"field": "t"}}},
    {"data": {"name": "d"}, "transform": [{"aggregate": [{"op": "count", "as": "k"}], "groupby": ["cond", "g418"]}], "mark": {"type": "text"},
     "encoding": {"x": {"field": "cond", "type": "nominal"}, "y": {"datum": "G418 [ng/µl]", "type": "nominal"}, "text": {"field": "g418", "type": "quantitative"}}}
   ]},

  {"width": 262, "height": 82,
   "title": {"text": "E", "dx": -74.6, "offset": -11.6, "baseline": "alphabetic"},
   "layer": [
    {"data": {"name": "e"}, "transform": [{"filter": "datum.fuca1 == 'WT'"}],
     "mark": {"type": "errorbar", "extent": "stdev", "ticks": true, "size": 9, "thickness": 1.6, "color": "#737373"},
     "encoding": {"x": {"field": "cond", "type": "nominal", "scale": {"type": "point", "domain": ["WT/0/0","WT/100/0","Q82X/0/0","Q82X/100/0","Q82X/100/1","Q82X/100/5"], "padding": 0.65}, "axis": null},
                  "y": {"field": "v", "type": "quantitative", "scale": {"domain": [10, 300], "nice": false, "zero": false}, "axis": {"values": [100, 200, 300], "title": ["specific fucosidase activity", "[mU/mg]"], "titleX": -44, "titleY": 74, "titleLineHeight": 14.4}}}},
    {"data": {"name": "e"}, "transform": [{"filter": "datum.fuca1 == 'WT'"}],
     "mark": {"type": "tick", "color": "#000", "thickness": 2.6, "size": 20},
     "encoding": {"x": {"field": "cond", "type": "nominal", "scale": {"type": "point", "domain": ["WT/0/0","WT/100/0","Q82X/0/0","Q82X/100/0","Q82X/100/1","Q82X/100/5"], "padding": 0.65}, "axis": null},
                  "y": {"aggregate": "mean", "field": "v", "type": "quantitative", "scale": {"domain": [10, 300], "nice": false, "zero": false}, "axis": {"values": [100, 200, 300], "title": ["specific fucosidase activity", "[mU/mg]"], "titleX": -44, "titleY": 74, "titleLineHeight": 14.4}}}},
    {"data": {"name": "e"}, "transform": [{"filter": "datum.fuca1 == 'WT'"}, {"bin": {"step": 12}, "field": "v", "as": "vb"}, {"window": [{"op": "row_number", "as": "i"}, {"op": "count", "as": "n"}], "groupby": ["cond", "vb"], "frame": [null, null]}, {"calculate": "datum.i - (datum.n + 1) / 2", "as": "off"}],
     "mark": {"type": "circle", "size": 10, "color": "#9c8a3e", "opacity": 1},
     "encoding": {"x": {"field": "cond", "type": "nominal", "scale": {"type": "point", "domain": ["WT/0/0","WT/100/0","Q82X/0/0","Q82X/100/0","Q82X/100/1","Q82X/100/5"], "padding": 0.65}, "axis": null},
                  "xOffset": {"field": "off", "type": "quantitative", "scale": {"domain": [-1, 1], "range": [-7, 7]}},
                  "y": {"field": "v", "type": "quantitative", "scale": {"domain": [10, 300], "nice": false, "zero": false}, "axis": {"values": [100, 200, 300], "title": ["specific fucosidase activity", "[mU/mg]"], "titleX": -44, "titleY": 74, "titleLineHeight": 14.4}}}},
    {"data": {"name": "eH"}, "mark": {"type": "rule", "color": "#333", "strokeWidth": 1.2},
     "encoding": {"x": {"field": "a", "type": "nominal", "scale": {"type": "point", "domain": ["WT/0/0","WT/100/0","Q82X/0/0","Q82X/100/0","Q82X/100/1","Q82X/100/5"], "padding": 0.65}, "axis": null}, "x2": {"field": "b"},
                  "y": {"field": "y", "type": "quantitative", "scale": {"domain": [10, 300], "nice": false, "zero": false}, "axis": {"values": [100, 200, 300], "title": ["specific fucosidase activity", "[mU/mg]"], "titleX": -44, "titleY": 74, "titleLineHeight": 14.4}}}},
    {"data": {"name": "eL"}, "mark": {"type": "rule", "color": "#333", "strokeWidth": 1.2},
     "encoding": {"x": {"field": "g", "type": "nominal", "scale": {"type": "point", "domain": ["WT/0/0","WT/100/0","Q82X/0/0","Q82X/100/0","Q82X/100/1","Q82X/100/5"], "padding": 0.65}, "axis": null},
                  "y": {"field": "y", "type": "quantitative", "scale": {"domain": [10, 300], "nice": false, "zero": false}, "axis": {"values": [100, 200, 300], "title": ["specific fucosidase activity", "[mU/mg]"], "titleX": -44, "titleY": 74, "titleLineHeight": 14.4}}, "y2": {"field": "y2"}}},
    {"data": {"name": "eS"}, "mark": {"type": "text", "fontSize": 12, "fontWeight": "bold", "baseline": "alphabetic", "dy": 6.8, "color": "#1a1a1a"},
     "encoding": {"x": {"field": "g", "type": "nominal", "scale": {"type": "point", "domain": ["WT/0/0","WT/100/0","Q82X/0/0","Q82X/100/0","Q82X/100/1","Q82X/100/5"], "padding": 0.65}, "axis": null},
                  "y": {"field": "y", "type": "quantitative", "scale": {"domain": [10, 300], "nice": false, "zero": false}, "axis": {"values": [100, 200, 300], "title": ["specific fucosidase activity", "[mU/mg]"], "titleX": -44, "titleY": 74, "titleLineHeight": 14.4}}, "text": {"field": "s"}}},
    {"data": {"values": [{}]}, "mark": {"type": "point", "shape": "M-1,0.7L1,-0.7", "size": 100, "filled": false, "stroke": "#111", "strokeWidth": 1.3, "opacity": 1, "xOffset": -28.33, "yOffset": -3},
     "encoding": {"x": {"datum": "WT/0/0", "type": "nominal", "axis": null}, "y": {"datum": 10, "type": "quantitative", "axis": {"values": [100, 200, 300], "title": ["specific fucosidase activity", "[mU/mg]"], "titleX": -44, "titleY": 74, "titleLineHeight": 14.4}}}}
   ]},
  {"width": 262, "height": 82,
   "title": {"text": "F", "dx": -77.3, "offset": -11.6, "baseline": "alphabetic"},
   "layer": [
    {"data": {"name": "f"}, "transform": [{"filter": "datum.fuca1 == 'WT'"}],
     "mark": {"type": "errorbar", "extent": "stdev", "ticks": true, "size": 9, "thickness": 1.6, "color": "#737373"},
     "encoding": {"x": {"field": "cond", "type": "nominal", "scale": {"type": "point", "domain": ["WT/0/0","WT/100/0","W188X/0/0","W188X/100/0","W188X/100/1","W188X/100/5"], "padding": 0.65}, "axis": null},
                  "y": {"field": "v", "type": "quantitative", "scale": {"domain": [10, 300], "nice": false, "zero": false}, "axis": {"values": [100, 200, 300], "title": ["specific fucosidase activity", "[mU/mg]"], "titleX": -49, "titleY": 73.5, "titleLineHeight": 15}}}},
    {"data": {"name": "f"}, "transform": [{"filter": "datum.fuca1 == 'WT'"}],
     "mark": {"type": "tick", "color": "#000", "thickness": 2.6, "size": 20},
     "encoding": {"x": {"field": "cond", "type": "nominal", "scale": {"type": "point", "domain": ["WT/0/0","WT/100/0","W188X/0/0","W188X/100/0","W188X/100/1","W188X/100/5"], "padding": 0.65}, "axis": null},
                  "y": {"aggregate": "mean", "field": "v", "type": "quantitative", "scale": {"domain": [10, 300], "nice": false, "zero": false}, "axis": {"values": [100, 200, 300], "title": ["specific fucosidase activity", "[mU/mg]"], "titleX": -49, "titleY": 73.5, "titleLineHeight": 15}}}},
    {"data": {"name": "f"}, "transform": [{"filter": "datum.fuca1 == 'WT'"}, {"bin": {"step": 12}, "field": "v", "as": "vb"}, {"window": [{"op": "row_number", "as": "i"}, {"op": "count", "as": "n"}], "groupby": ["cond", "vb"], "frame": [null, null]}, {"calculate": "datum.i - (datum.n + 1) / 2", "as": "off"}],
     "mark": {"type": "circle", "size": 10, "color": "#9c8a3e", "opacity": 1},
     "encoding": {"x": {"field": "cond", "type": "nominal", "scale": {"type": "point", "domain": ["WT/0/0","WT/100/0","W188X/0/0","W188X/100/0","W188X/100/1","W188X/100/5"], "padding": 0.65}, "axis": null},
                  "xOffset": {"field": "off", "type": "quantitative", "scale": {"domain": [-1, 1], "range": [-7, 7]}},
                  "y": {"field": "v", "type": "quantitative", "scale": {"domain": [10, 300], "nice": false, "zero": false}, "axis": {"values": [100, 200, 300], "title": ["specific fucosidase activity", "[mU/mg]"], "titleX": -49, "titleY": 73.5, "titleLineHeight": 15}}}},
    {"data": {"name": "fH"}, "mark": {"type": "rule", "color": "#333", "strokeWidth": 1.2},
     "encoding": {"x": {"field": "a", "type": "nominal", "scale": {"type": "point", "domain": ["WT/0/0","WT/100/0","W188X/0/0","W188X/100/0","W188X/100/1","W188X/100/5"], "padding": 0.65}, "axis": null}, "x2": {"field": "b"},
                  "y": {"field": "y", "type": "quantitative", "scale": {"domain": [10, 300], "nice": false, "zero": false}, "axis": {"values": [100, 200, 300], "title": ["specific fucosidase activity", "[mU/mg]"], "titleX": -49, "titleY": 73.5, "titleLineHeight": 15}}}},
    {"data": {"name": "fL"}, "mark": {"type": "rule", "color": "#333", "strokeWidth": 1.2},
     "encoding": {"x": {"field": "g", "type": "nominal", "scale": {"type": "point", "domain": ["WT/0/0","WT/100/0","W188X/0/0","W188X/100/0","W188X/100/1","W188X/100/5"], "padding": 0.65}, "axis": null},
                  "y": {"field": "y", "type": "quantitative", "scale": {"domain": [10, 300], "nice": false, "zero": false}, "axis": {"values": [100, 200, 300], "title": ["specific fucosidase activity", "[mU/mg]"], "titleX": -49, "titleY": 73.5, "titleLineHeight": 15}}, "y2": {"field": "y2"}}},
    {"data": {"name": "fS"}, "mark": {"type": "text", "fontSize": 12, "fontWeight": "bold", "baseline": "alphabetic", "dy": 6.8, "color": "#1a1a1a"},
     "encoding": {"x": {"field": "g", "type": "nominal", "scale": {"type": "point", "domain": ["WT/0/0","WT/100/0","W188X/0/0","W188X/100/0","W188X/100/1","W188X/100/5"], "padding": 0.65}, "axis": null},
                  "y": {"field": "y", "type": "quantitative", "scale": {"domain": [10, 300], "nice": false, "zero": false}, "axis": {"values": [100, 200, 300], "title": ["specific fucosidase activity", "[mU/mg]"], "titleX": -49, "titleY": 73.5, "titleLineHeight": 15}}, "text": {"field": "s"}}},
    {"data": {"values": [{}]}, "mark": {"type": "point", "shape": "M-1,0.7L1,-0.7", "size": 100, "filled": false, "stroke": "#111", "strokeWidth": 1.3, "opacity": 1, "xOffset": -28.33, "yOffset": -3},
     "encoding": {"x": {"datum": "WT/0/0", "type": "nominal", "axis": null}, "y": {"datum": 10, "type": "quantitative", "axis": {"values": [100, 200, 300], "title": ["specific fucosidase activity", "[mU/mg]"], "titleX": -49, "titleY": 73.5, "titleLineHeight": 15}}}}
   ]},

  {"width": 262, "height": 80,
   "layer": [
    {"data": {"name": "e"}, "transform": [{"filter": "datum.fuca1 != 'WT'"}],
     "mark": {"type": "errorbar", "extent": "stdev", "ticks": true, "size": 9, "thickness": 1.6, "color": "#737373"},
     "encoding": {"x": {"field": "cond", "type": "nominal", "scale": {"type": "point", "domain": ["WT/0/0","WT/100/0","Q82X/0/0","Q82X/100/0","Q82X/100/1","Q82X/100/5"], "padding": 0.65}, "axis": {"labels": false, "ticks": false, "title": null, "domainWidth": 2}},
                  "y": {"field": "v", "type": "quantitative", "scale": {"domain": [0, 8], "nice": false, "zero": false}, "axis": {"values": [0, 2, 4, 6, 8], "title": null}}}},
    {"data": {"name": "e"}, "transform": [{"filter": "datum.fuca1 != 'WT'"}],
     "mark": {"type": "tick", "color": "#000", "thickness": 2.6, "size": 20},
     "encoding": {"x": {"field": "cond", "type": "nominal", "scale": {"type": "point", "domain": ["WT/0/0","WT/100/0","Q82X/0/0","Q82X/100/0","Q82X/100/1","Q82X/100/5"], "padding": 0.65}, "axis": {"labels": false, "ticks": false, "title": null, "domainWidth": 2}},
                  "y": {"aggregate": "mean", "field": "v", "type": "quantitative", "scale": {"domain": [0, 8], "nice": false, "zero": false}, "axis": {"values": [0, 2, 4, 6, 8], "title": null}}}},
    {"data": {"name": "e"}, "transform": [{"filter": "datum.fuca1 != 'WT'"}, {"bin": {"step": 0.35}, "field": "v", "as": "vb"}, {"window": [{"op": "row_number", "as": "i"}, {"op": "count", "as": "n"}], "groupby": ["cond", "vb"], "frame": [null, null]}, {"calculate": "datum.i - (datum.n + 1) / 2", "as": "off"}],
     "mark": {"type": "circle", "size": 10, "color": "#9c8a3e", "opacity": 1},
     "encoding": {"x": {"field": "cond", "type": "nominal", "scale": {"type": "point", "domain": ["WT/0/0","WT/100/0","Q82X/0/0","Q82X/100/0","Q82X/100/1","Q82X/100/5"], "padding": 0.65}, "axis": {"labels": false, "ticks": false, "title": null, "domainWidth": 2}},
                  "xOffset": {"field": "off", "type": "quantitative", "scale": {"domain": [-1, 1], "range": [-8, 8]}},
                  "y": {"field": "v", "type": "quantitative", "scale": {"domain": [0, 8], "nice": false, "zero": false}, "axis": {"values": [0, 2, 4, 6, 8], "title": null}}}},
    {"data": {"values": [{}]}, "mark": {"type": "point", "shape": "M-1,0.7L1,-0.7", "size": 100, "filled": false, "stroke": "#111", "strokeWidth": 1.3, "opacity": 1, "xOffset": -28.33, "yOffset": -3},
     "encoding": {"x": {"datum": "WT/0/0", "type": "nominal", "axis": {"labels": false, "ticks": false, "title": null, "domainWidth": 2}}, "y": {"datum": 8, "type": "quantitative", "axis": {"values": [0, 2, 4, 6, 8], "title": null}}}}
   ]},
  {"width": 262, "height": 80,
   "layer": [
    {"data": {"name": "f"}, "transform": [{"filter": "datum.fuca1 != 'WT'"}],
     "mark": {"type": "errorbar", "extent": "stdev", "ticks": true, "size": 9, "thickness": 1.6, "color": "#737373"},
     "encoding": {"x": {"field": "cond", "type": "nominal", "scale": {"type": "point", "domain": ["WT/0/0","WT/100/0","W188X/0/0","W188X/100/0","W188X/100/1","W188X/100/5"], "padding": 0.65}, "axis": {"labels": false, "ticks": false, "title": null, "domainWidth": 2}},
                  "y": {"field": "v", "type": "quantitative", "scale": {"domain": [0, 2.5], "nice": false, "zero": false}, "axis": {"values": [0, 1, 2], "title": null}}}},
    {"data": {"name": "f"}, "transform": [{"filter": "datum.fuca1 != 'WT'"}],
     "mark": {"type": "tick", "color": "#000", "thickness": 2.6, "size": 20},
     "encoding": {"x": {"field": "cond", "type": "nominal", "scale": {"type": "point", "domain": ["WT/0/0","WT/100/0","W188X/0/0","W188X/100/0","W188X/100/1","W188X/100/5"], "padding": 0.65}, "axis": {"labels": false, "ticks": false, "title": null, "domainWidth": 2}},
                  "y": {"aggregate": "mean", "field": "v", "type": "quantitative", "scale": {"domain": [0, 2.5], "nice": false, "zero": false}, "axis": {"values": [0, 1, 2], "title": null}}}},
    {"data": {"name": "f"}, "transform": [{"filter": "datum.fuca1 != 'WT'"}, {"bin": {"step": 0.1}, "field": "v", "as": "vb"}, {"window": [{"op": "row_number", "as": "i"}, {"op": "count", "as": "n"}], "groupby": ["cond", "vb"], "frame": [null, null]}, {"calculate": "datum.i - (datum.n + 1) / 2", "as": "off"}],
     "mark": {"type": "circle", "size": 10, "color": "#9c8a3e", "opacity": 1},
     "encoding": {"x": {"field": "cond", "type": "nominal", "scale": {"type": "point", "domain": ["WT/0/0","WT/100/0","W188X/0/0","W188X/100/0","W188X/100/1","W188X/100/5"], "padding": 0.65}, "axis": {"labels": false, "ticks": false, "title": null, "domainWidth": 2}},
                  "xOffset": {"field": "off", "type": "quantitative", "scale": {"domain": [-1, 1], "range": [-7, 7]}},
                  "y": {"field": "v", "type": "quantitative", "scale": {"domain": [0, 2.5], "nice": false, "zero": false}, "axis": {"values": [0, 1, 2], "title": null}}}},
    {"data": {"values": [{}]}, "mark": {"type": "point", "shape": "M-1,0.7L1,-0.7", "size": 100, "filled": false, "stroke": "#111", "strokeWidth": 1.3, "opacity": 1, "xOffset": -28.33, "yOffset": -3},
     "encoding": {"x": {"datum": "WT/0/0", "type": "nominal", "axis": {"labels": false, "ticks": false, "title": null, "domainWidth": 2}}, "y": {"datum": 2.5, "type": "quantitative", "axis": {"values": [0, 1, 2], "title": null}}}}
   ]},

  {"width": 262, "height": 42,
   "layer": [
    {"data": {"values": [{"a": "WT/0/0", "b": "WT/100/0"}]},
     "mark": {"type": "rule", "color": "#111", "strokeWidth": 2.4, "xOffset": -13, "x2Offset": 14, "yOffset": -8.4},
     "encoding": {"x": {"field": "a", "type": "nominal", "scale": {"type": "point", "domain": ["WT/0/0","WT/100/0","Q82X/0/0","Q82X/100/0","Q82X/100/1","Q82X/100/5"], "padding": 0.65}, "axis": null}, "x2": {"field": "b"},
                  "y": {"datum": "FUCA1", "type": "nominal", "scale": {"type": "point", "domain": ["FUCA1", "G418 [ng/µl]", "CC-885 [nM]"], "padding": 0.346},
                        "axis": {"title": null, "domain": false, "ticks": false, "tickSize": 0, "labelAlign": "left", "labelPadding": 69, "labelBaseline": "middle"}}}},
    {"data": {"values": [{"a": "Q82X/0/0", "b": "Q82X/100/5"}]},
     "mark": {"type": "rule", "color": "#111", "strokeWidth": 2.4, "xOffset": -19, "x2Offset": 29, "yOffset": -8.4},
     "encoding": {"x": {"field": "a", "type": "nominal"}, "x2": {"field": "b"}, "y": {"datum": "FUCA1", "type": "nominal"}}},
    {"data": {"values": [{"g": "WT/0/0", "t": "WT"}, {"g": "Q82X/100/0", "t": "p.Q82X"}]}, "mark": {"type": "text", "dx": 20.8},
     "encoding": {"x": {"field": "g", "type": "nominal"}, "y": {"datum": "FUCA1", "type": "nominal"}, "text": {"field": "t"}}},
    {"data": {"name": "e"}, "transform": [{"aggregate": [{"op": "count", "as": "k"}], "groupby": ["cond", "g418", "cc"]}], "mark": {"type": "text"},
     "encoding": {"x": {"field": "cond", "type": "nominal"}, "y": {"datum": "G418 [ng/µl]", "type": "nominal"}, "text": {"field": "g418", "type": "quantitative"}}},
    {"data": {"name": "e"}, "transform": [{"aggregate": [{"op": "count", "as": "k"}], "groupby": ["cond", "g418", "cc"]}], "mark": {"type": "text"},
     "encoding": {"x": {"field": "cond", "type": "nominal"}, "y": {"datum": "CC-885 [nM]", "type": "nominal"}, "text": {"field": "cc", "type": "quantitative"}}}
   ]},
  {"width": 262, "height": 42,
   "layer": [
    {"data": {"values": [{"a": "WT/0/0", "b": "WT/100/0"}]},
     "mark": {"type": "rule", "color": "#111", "strokeWidth": 2.4, "xOffset": -12, "x2Offset": 13, "yOffset": -8.5},
     "encoding": {"x": {"field": "a", "type": "nominal", "scale": {"type": "point", "domain": ["WT/0/0","WT/100/0","W188X/0/0","W188X/100/0","W188X/100/1","W188X/100/5"], "padding": 0.65}, "axis": null}, "x2": {"field": "b"},
                  "y": {"datum": "FUCA1", "type": "nominal", "scale": {"type": "point", "domain": ["FUCA1", "G418 [ng/µl]", "CC-885 [nM]"], "padding": 0.346},
                        "axis": {"title": null, "domain": false, "ticks": false, "tickSize": 0, "labelAlign": "left", "labelPadding": 67.3, "labelBaseline": "middle"}}}},
    {"data": {"values": [{"a": "W188X/0/0", "b": "W188X/100/5"}]},
     "mark": {"type": "rule", "color": "#111", "strokeWidth": 2.4, "xOffset": -18, "x2Offset": 30, "yOffset": -8.5},
     "encoding": {"x": {"field": "a", "type": "nominal"}, "x2": {"field": "b"}, "y": {"datum": "FUCA1", "type": "nominal"}}},
    {"data": {"values": [{"g": "WT/0/0", "t": "WT"}, {"g": "W188X/100/0", "t": "p.W188X"}]}, "mark": {"type": "text", "dx": 20.8},
     "encoding": {"x": {"field": "g", "type": "nominal"}, "y": {"datum": "FUCA1", "type": "nominal"}, "text": {"field": "t"}}},
    {"data": {"name": "f"}, "transform": [{"aggregate": [{"op": "count", "as": "k"}], "groupby": ["cond", "g418", "cc"]}], "mark": {"type": "text"},
     "encoding": {"x": {"field": "cond", "type": "nominal"}, "y": {"datum": "G418 [ng/µl]", "type": "nominal"}, "text": {"field": "g418", "type": "quantitative"}}},
    {"data": {"name": "f"}, "transform": [{"aggregate": [{"op": "count", "as": "k"}], "groupby": ["cond", "g418", "cc"]}], "mark": {"type": "text"},
     "encoding": {"x": {"field": "cond", "type": "nominal"}, "y": {"datum": "CC-885 [nM]", "type": "nominal"}, "text": {"field": "cc", "type": "quantitative"}}}
   ]}
]
}
